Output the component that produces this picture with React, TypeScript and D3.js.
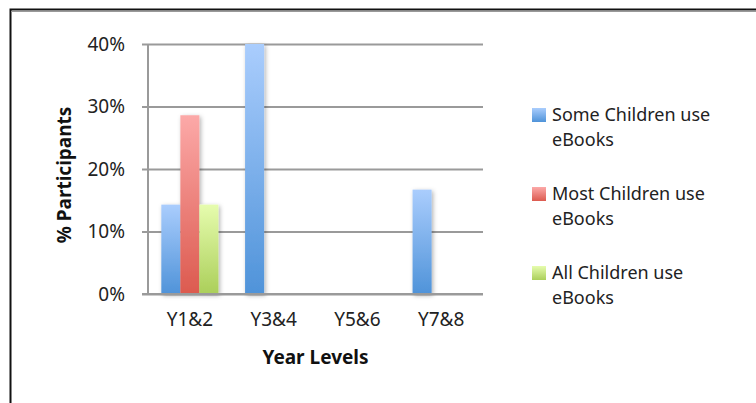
import * as d3 from "d3";
import { useRef, useEffect } from "react";

const categories = ["Y1&2", "Y3&4", "Y5&6", "Y7&8"];
const seriesNames = ["Some Children use eBooks", "Most Children use eBooks", "All Children use eBooks"];
const someValues = [14.3, 40, 0, 16.7];
const mostValues = [28.6, 0, 0, 0];
const allValues = [14.3, 0, 0, 0];
const yTicks = [0, 10, 20, 30, 40];

const gradients = [
  ["#aacdfd", "#4f93d9"],
  ["#fca9a8", "#dc5a4f"],
  ["#e6fcae", "#abcf5a"],
];

const width = 756;
const height = 403;
const margin = { top: 44, right: 273, bottom: 109, left: 148 };
const font = "'Noto Sans', 'Open Sans', sans-serif";

export default function App() {
  const gx = useRef(null);
  const gy = useRef(null);
  const series = [someValues, mostValues, allValues];
  const plotW = width - margin.right - margin.left;

  const x = d3.scaleBand().domain(categories).range([margin.left, width - margin.right]);
  const x1 = d3.scaleBand().domain(seriesNames).range([0, x.bandwidth()]).paddingInner(0).paddingOuter(0.7);
  const y = d3.scaleLinear().domain([0, 40]).range([height - margin.bottom, margin.top]);

  useEffect(() => {
    const ax = d3.select(gx.current);
    ax.call(d3.axisBottom(x).tickSize(0).tickPadding(19));
    ax.select(".domain").remove();
    ax.selectAll("text").attr("font-size", 19).attr("font-family", font).attr("fill", "#222");

    const ay = d3.select(gy.current);
    ay.call(d3.axisLeft(y).tickValues(yTicks).tickFormat((d) => `${d}%`).tickSize(0).tickPadding(23));
    ay.select(".domain").remove();
    // gridlines, starting a little left of the axis like tick marks
    ay.selectAll(".tick line").attr("x1", -6).attr("x2", plotW).attr("stroke", "#9a9a9a").attr("stroke-width", 2);
    ay.selectAll("text").attr("font-size", 19).attr("font-family", font).attr("fill", "#222");
  }, []);

  return (
    <svg width={width} height={height} style={{ position: "absolute", left: 0, top: 0, background: "#fff" }}>
      <defs>
        {gradients.map((g, i) => (
          <linearGradient key={i} id={`grad${i}`} x1="0" y1="0" x2="0" y2="1">
            <stop offset="0%" stopColor={g[0]} />
            <stop offset="100%" stopColor={g[1]} />
          </linearGradient>
        ))}
        <filter id="shadow" x="-30%" y="-10%" width="160%" height="120%">
          <feDropShadow dx="1.5" dy="1.5" stdDeviation="2" floodColor="#000" floodOpacity="0.3" />
        </filter>
      </defs>
      {/* frame */}
      <rect x={10.5} y={9.5} width={800} height={500} fill="none" stroke="#111" strokeWidth={2} />
      <line x1={11} x2={800} y1={11.5} y2={11.5} stroke="#999" strokeWidth={1} />

      <g ref={gy} transform={`translate(${margin.left},0)`} />
      <line x1={margin.left} x2={margin.left} y1={margin.top} y2={height - margin.bottom} stroke="#9a9a9a" strokeWidth={2} />

      <g filter="url(#shadow)">
        {categories.map((c, ci) =>
          series.map((vals, si) =>
            vals[ci] > 0 ? (
              <rect
                key={`${c}-${si}`}
                x={x(c)! + x1(seriesNames[si])!}
                y={y(vals[ci])}
                width={x1.bandwidth()}
                height={y(0) - y(vals[ci])}
                fill={`url(#grad${si})`}
              />
            ) : null
          )
        )}
      </g>
      <line x1={margin.left - 6} x2={width - margin.right} y1={y(0)} y2={y(0)} stroke="#9a9a9a" strokeWidth={2} />

      <g ref={gx} transform={`translate(0,${height - margin.bottom})`} />

      <text x={(margin.left + width - margin.right) / 2} y={364} textAnchor="middle" fontSize={19} fontWeight="bold" fontFamily={font} fill="#111">
        Year Levels
      </text>
      <text transform={`translate(71,175) rotate(-90)`} textAnchor="middle" fontSize={19} fontWeight="bold" fontFamily={font} fill="#111">
        % Participants
      </text>

      {seriesNames.map((name, i) => {
        const words = name.split(" ");
        const top = 108 + i * 79;
        return (
          <g key={name}>
            <rect x={532} y={top} width={14} height={14} fill={`url(#grad${i})`} />
            <text x={552} y={top + 13} fontSize={18} fontFamily={font} fill="#222">
              {words.slice(0, 3).join(" ")}
            </text>
            <text x={552} y={top + 38} fontSize={18} fontFamily={font} fill="#222">
              {words.slice(3).join(" ")}
            </text>
          </g>
        );
      })}
    </svg>
  );
}
